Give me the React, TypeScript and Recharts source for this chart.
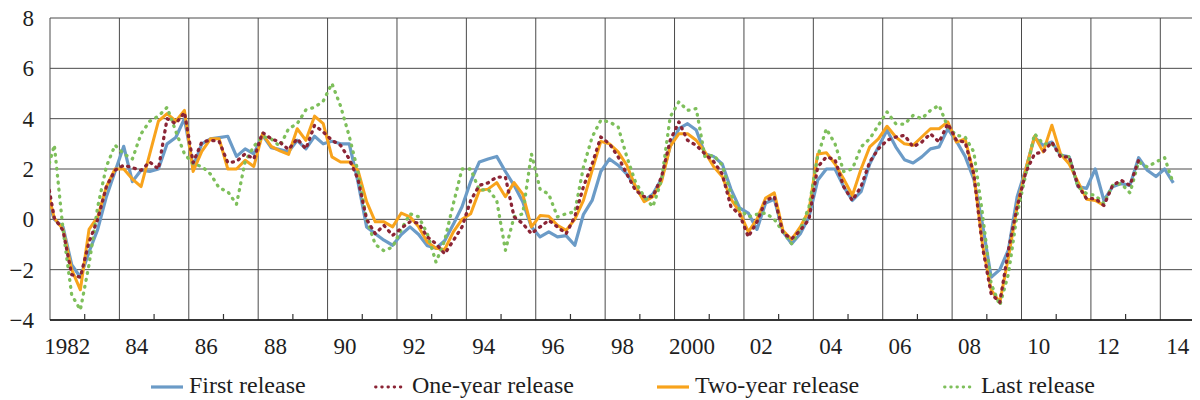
import React from 'react';
import { LineChart, Line, XAxis, YAxis, CartesianGrid, Legend } from 'recharts';

// Quarterly series, first value is 1981Q4, then 1982Q1 ... (one row of 4 per year)
const START_YEAR = 1981;
const START_QUARTER = 4;

const firstRelease = [
  1.0,
  0.0, -0.3, -1.8, -2.3, // 1982
  -1.3, -0.4, 0.9, 1.9, // 1983
  2.9, 1.5, 1.95, 1.9, // 1984
  2.0, 3.0, 3.25, 4.0, // 1985
  2.1, 3.0, 3.2, 3.25, // 1986
  3.3, 2.5, 2.8, 2.6, // 1987
  3.35, 2.85, 2.77, 2.68, // 1988
  3.14, 2.8, 3.3, 3.0, // 1989
  3.1, 3.0, 3.0, 1.5, // 1990
  -0.3, -0.57, -0.83, -1.03, // 1991
  -0.6, -0.3, -0.6, -1.05, // 1992
  -1.15, -0.85, -0.2, 0.5, // 1993
  1.5, 2.28, 2.4, 2.5, // 1994
  1.9, 1.35, 0.7, -0.3, // 1995
  -0.7, -0.5, -0.7, -0.65, // 1996
  -1.03, 0.2, 0.75, 1.9, // 1997
  2.4, 2.15, 1.8, 1.3, // 1998
  0.75, 1.0, 1.6, 2.9, // 1999
  3.6, 3.8, 3.55, 2.6, // 2000
  2.5, 2.2, 1.2, 0.45, // 2001
  0.25, -0.4, 0.65, 0.8, // 2002
  -0.5, -0.97, -0.57, 0.1, // 2003
  1.55, 2.0, 2.0, 1.3, // 2004
  0.75, 1.1, 2.2, 2.88, // 2005
  3.54, 2.88, 2.37, 2.24, // 2006
  2.48, 2.8, 2.88, 3.6, // 2007
  3.1, 2.5, 1.6, -0.2, // 2008
  -2.3, -2.0, -1.2, 0.9, // 2009
  2.0, 3.27, 2.94, 3.07, // 2010
  2.55, 2.48, 1.3, 1.23, // 2011
  2.0, 0.75, 1.3, 1.42, // 2012
  1.35, 2.45, 1.95, 1.7, // 2013
  2.0, 1.45, // 2014
];

const oneYearRelease = [
  1.95,
  0.05, -0.44, -2.2, -2.3, // 1982
  -0.9, 0.0, 1.3, 1.95, // 1983
  2.15, 2.05, 1.95, 2.28, // 1984
  2.0, 4.0, 3.8, 4.25, // 1985
  2.25, 3.07, 3.14, 3.1, // 1986
  2.25, 2.3, 2.6, 2.4, // 1987
  3.45, 3.2, 3.07, 2.77, // 1988
  3.2, 2.8, 3.74, 3.47, // 1989
  3.14, 2.94, 2.4, 1.6, // 1990
  0.0, -0.57, -0.24, -0.64, // 1991
  -0.35, -0.1, -0.15, -0.7, // 1992
  -0.97, -1.37, -0.84, -0.3, // 1993
  0.75, 1.35, 1.45, 1.68, // 1994
  1.68, 0.1, -0.17, -0.57, // 1995
  -0.3, -0.04, -0.3, -0.57, // 1996
  0.1, 1.3, 2.2, 3.27, // 1997
  3.0, 2.48, 1.8, 1.15, // 1998
  0.9, 0.9, 1.68, 3.14, // 1999
  3.87, 3.14, 2.94, 2.6, // 2000
  2.3, 1.8, 0.5, 0.2, // 2001
  -0.7, -0.1, 0.75, 0.9, // 2002
  -0.55, -0.77, -0.44, 0.0, // 2003
  2.08, 2.48, 2.37, 1.3, // 2004
  0.75, 1.3, 2.28, 2.8, // 2005
  3.14, 3.27, 3.34, 2.88, // 2006
  3.07, 3.4, 3.07, 3.8, // 2007
  3.14, 3.07, 1.8, -1.1, // 2008
  -2.96, -3.3, -1.2, 0.5, // 2009
  1.88, 2.6, 2.68, 3.07, // 2010
  2.48, 2.48, 1.35, 0.82, // 2011
  0.82, 0.55, 1.35, 1.55, // 2012
  1.35, 2.35, // 2013
];

const twoYearRelease = [
  1.45,
  0.05, -0.4, -2.0, -2.8, // 1982
  -0.4, 0.1, 1.3, 2.0, // 1983
  2.0, 1.6, 1.3, 2.6, // 1984
  3.9, 4.2, 3.9, 4.33, // 1985
  1.9, 2.7, 3.2, 3.2, // 1986
  2.0, 2.0, 2.35, 2.1, // 1987
  3.4, 2.9, 2.72, 2.58, // 1988
  3.6, 3.14, 4.1, 3.8, // 1989
  2.48, 2.28, 2.28, 1.95, // 1990
  0.7, -0.1, -0.1, -0.3, // 1991
  0.25, 0.1, -0.3, -0.9, // 1992
  -1.15, -1.2, -0.5, 0.0, // 1993
  0.22, 1.15, 1.2, 1.46, // 1994
  0.9, 1.46, 1.0, -0.3, // 1995
  0.15, 0.12, -0.24, -0.44, // 1996
  0.0, 0.75, 1.95, 3.1, // 1997
  3.0, 2.68, 2.15, 1.3, // 1998
  0.7, 0.9, 1.5, 2.9, // 1999
  3.4, 3.4, 3.14, 2.68, // 2000
  2.1, 1.7, 0.8, 0.3, // 2001
  -0.5, 0.0, 0.85, 1.05, // 2002
  -0.45, -0.8, -0.3, 0.36, // 2003
  2.6, 2.65, 2.2, 1.6, // 2004
  0.95, 2.0, 2.88, 3.2, // 2005
  3.7, 3.27, 3.0, 2.94, // 2006
  3.27, 3.6, 3.6, 3.87, // 2007
  3.07, 3.2, 1.8, -1.0, // 2008
  -2.8, -3.3, -1.5, 0.5, // 2009
  2.0, 3.3, 2.68, 3.74, // 2010
  2.6, 2.2, 1.5, 0.8, // 2011
  0.75, 0.55, // 2012
];

const lastRelease = [
  1.7,
  2.95, -0.4, -3.0, -3.6, // 1982
  -1.8, 0.5, 2.1, 2.95, // 1983
  2.6, 2.4, 3.4, 3.9, // 1984
  4.1, 4.45, 3.5, 2.6, // 1985
  2.2, 2.1, 1.8, 1.25, // 1986
  1.1, 0.6, 2.3, 2.9, // 1987
  3.3, 3.2, 2.9, 3.6, // 1988
  3.8, 4.35, 4.45, 4.7, // 1989
  5.4, 4.5, 3.3, 1.9, // 1990
  0.0, -1.0, -1.25, -1.1, // 1991
  -0.4, 0.22, 0.1, -0.57, // 1992
  -1.7, -0.84, 0.62, 2.0, // 1993
  2.0, 1.15, 1.2, 0.75, // 1994
  -1.23, 0.1, 0.22, 2.6, // 1995
  1.2, 1.0, 0.1, 0.22, // 1996
  0.3, 2.08, 3.27, 3.94, // 1997
  3.87, 3.67, 2.48, 1.48, // 1998
  0.9, 0.5, 1.55, 4.07, // 1999
  4.67, 4.33, 4.4, 2.48, // 2000
  2.55, 2.15, 1.0, 0.4, // 2001
  0.1, 0.2, 0.25, 0.0, // 2002
  -0.5, -0.97, -0.4, 0.5, // 2003
  2.5, 3.6, 3.0, 1.9, // 2004
  2.0, 2.88, 3.2, 3.74, // 2005
  4.27, 3.8, 3.78, 4.13, // 2006
  4.0, 4.33, 4.53, 3.67, // 2007
  3.34, 3.27, 2.68, 0.22, // 2008
  -2.56, -3.42, -2.16, 0.22, // 2009
  1.8, 3.4, 3.0, 3.0, // 2010
  2.55, 2.48, 1.3, 1.02, // 2011
  0.95, 0.62, 1.35, 1.42, // 2012
  1.05, 2.28, 2.08, 2.28, // 2013
  2.45, 1.42, // 2014
];

const labelYears = [1982, 1984, 1986, 1988, 1990, 1992, 1994, 1996, 1998, 2000, 2002, 2004, 2006, 2008, 2010, 2012, 2014];
const yearLabels = ['1982', '84', '86', '88', '90', '92', '94', '96', '98', '2000', '02', '04', '06', '08', '10', '12', '14'];
const gridYears = [1982, 1984, 1986, 1988, 1990, 1992, 1994, 1996, 1998, 2000, 2002, 2004, 2006, 2008, 2010, 2012, 2014, 2015];
const minorTickYears = [1983, 1985, 1987, 1989, 1991, 1993, 1995, 1997, 1999, 2001, 2003, 2005, 2007, 2009, 2011, 2013];
const yTicks = [-4, -2, 0, 2, 4, 6, 8];

const seriesNames = ['First release', 'One-year release', 'Two-year release', 'Last release'];

const BLUE = '#6B9BC7';
const MAROON = '#8B2435';
const ORANGE = '#F8A31C';
const GREEN = '#7EBF5B';
const FONT = '"Liberation Serif", Tinos, "Times New Roman", "DejaVu Serif", serif';
const TEXT = '#1e1e1e';

const data = lastRelease.map((v, k) => {
  const qIndex = k + (START_QUARTER - 1);
  return {
    x: START_YEAR + (qIndex + 0.5) / 4,
    first: firstRelease[k],
    oneYear: oneYearRelease[k],
    twoYear: twoYearRelease[k],
    last: v,
  };
});

const labelPositions = labelYears.map((y) => y + 0.5);
const fmtX = (v: number) => {
  const idx = labelYears.indexOf(Math.round(v - 0.5));
  return idx >= 0 ? yearLabels[idx] : '';
};
const fmtY = (v: number) => (v < 0 ? `\u2212${Math.abs(v)}` : `${v}`);

// axis 0 carries every year start; odd years get a short upward tick mark
const baseTicks = [...gridYears, ...minorTickYears].sort((a, b) => a - b);
const YearTick = (props: any) => {
  const { x, y, payload } = props;
  if (!payload || minorTickYears.indexOf(payload.value) < 0) return <g />;
  return <line x1={x} x2={x} y1={y} y2={y - 6} stroke="#333" strokeWidth={1.2} />;
};

const legendItems = [
  { name: seriesNames[0], color: BLUE, dotted: false, x: 143 },
  { name: seriesNames[1], color: MAROON, dotted: true, x: 366 },
  { name: seriesNames[2], color: ORANGE, dotted: false, x: 649 },
  { name: seriesNames[3], color: GREEN, dotted: true, x: 935 },
];

const renderLegend = () => (
  <svg width={1192} height={34} style={{ display: 'block', overflow: 'visible' }}>
    {legendItems.map((it) => (
      <g key={it.name}>
        <line
          x1={it.x + (it.dotted ? 1.5 : 0)}
          x2={it.x + 32}
          y1={19}
          y2={19}
          stroke={it.color}
          strokeWidth={it.dotted ? 2.8 : 3.2}
          strokeDasharray={it.dotted ? '0.6 5.6' : undefined}
          strokeLinecap={it.dotted ? 'round' : 'butt'}
        />
        <text x={it.x + 38} y={25} style={{ fontFamily: FONT }} fontSize={24} fill={TEXT}>
          {it.name}
        </text>
      </g>
    ))}
  </svg>
);

export default function App() {
  return (
    <div style={{ width: 1192, height: 400, position: 'relative', marginTop: -8 }}>
      <LineChart width={1192} height={400} data={data} margin={{ top: 18, right: 5, left: 0, bottom: 40 }}>
        <CartesianGrid stroke="#4a4a4a" strokeWidth={1} verticalValues={gridYears} />
        <XAxis
          type="number"
          dataKey="x"
          domain={[1982, 2015]}
          ticks={baseTicks}
          allowDataOverflow
          height={1}
          tick={<YearTick />}
          tickLine={false}
          tickSize={0}
          tickMargin={0}
          axisLine={{ stroke: '#111', strokeWidth: 1.6 }}
          interval={0}
        />
        <XAxis
          xAxisId="label"
          type="number"
          dataKey="x"
          domain={[1982, 2015]}
          ticks={labelPositions}
          tickFormatter={fmtX}
          allowDataOverflow
          height={39}
          tickLine={false}
          axisLine={false}
          tickSize={0}
          tickMargin={17}
          interval={0}
          tick={{ fontSize: 23, fill: TEXT, fontFamily: FONT }}
        />
        <YAxis
          type="number"
          domain={[-4, 8]}
          ticks={yTicks}
          width={42}
          axisLine={false}
          tickLine={false}
          tickSize={0}
          tickMargin={16}
          interval={0}
          tickFormatter={fmtY}
          tick={{ fontSize: 23, fill: TEXT, fontFamily: FONT }}
        />
        <Line type="linear" dataKey="first" name={seriesNames[0]} stroke={BLUE} strokeWidth={3.2} dot={false} isAnimationActive={false} strokeLinejoin="round" />
        <Line type="linear" dataKey="twoYear" name={seriesNames[2]} stroke={ORANGE} strokeWidth={3} dot={false} isAnimationActive={false} strokeLinejoin="round" />
        <Line type="linear" dataKey="last" name={seriesNames[3]} stroke={GREEN} strokeWidth={3.3} strokeDasharray="0.8 6.2" strokeLinecap="round" dot={false} isAnimationActive={false} strokeLinejoin="round" />
        <Line type="linear" dataKey="oneYear" name={seriesNames[1]} stroke={MAROON} strokeWidth={3.3} strokeDasharray="1.2 5.6" strokeLinecap="round" dot={false} isAnimationActive={false} strokeLinejoin="round" />
        <Legend
          layout="horizontal"
          verticalAlign="middle"
          align="center"
          content={renderLegend}
          wrapperStyle={{ left: 0, top: 368, width: 1192, height: 34 }}
        />
      </LineChart>
    </div>
  );
}
